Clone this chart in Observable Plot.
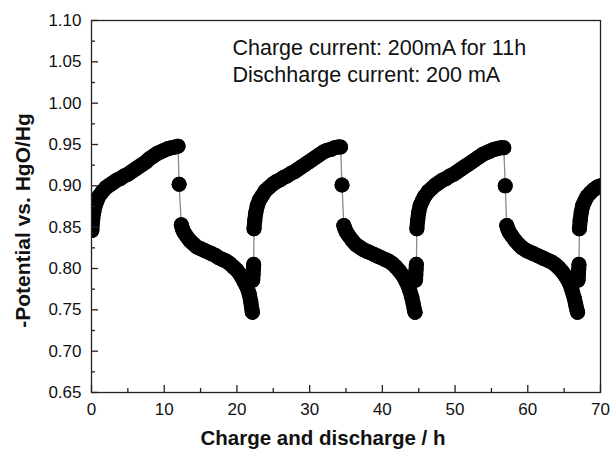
<!DOCTYPE html>
<html>
<head>
<meta charset="utf-8">
<script src="https://cdn.jsdelivr.net/npm/d3@7"></script>
<script src="https://cdn.jsdelivr.net/npm/@observablehq/plot@0.6"></script>
<style>
  html, body { margin: 0; padding: 0; background: #fff; }
  #chart { width: 611px; height: 449px; }
</style>
</head>
<body>
<div id="chart"></div>
<script>
// ---- data (hours, potential V) ----
const hours = [
  // cycle 1 charge
  0.05, 0.15, 0.3, 0.5, 0.75, 1.0, 1.5, 2.0, 2.5, 3.0, 3.5, 4.0, 4.5, 5.0, 5.5, 6.0, 6.5, 7.0, 7.5, 8.0, 8.5, 9.0, 9.5, 10.0, 10.5, 11.0, 11.5, 11.9,
  12.05,
  // cycle 1 discharge
  12.35, 12.5, 12.7, 13.0, 13.5, 14.0, 14.5, 15.0, 15.5, 16.0, 16.5, 17.0, 17.5, 18.0, 18.5, 19.0, 19.5, 20.0, 20.5, 21.0, 21.4, 21.7, 21.9, 22.05, 22.12,
  22.18, 22.22, 22.26, 22.3,
  // cycle 2 charge
  22.35, 22.45, 22.6, 22.8, 23.1, 23.4, 23.9, 24.4, 24.9, 25.4, 25.9, 26.4, 26.9, 27.4, 27.9, 28.4, 28.9, 29.4, 29.9, 30.4, 30.9, 31.4, 31.9, 32.4, 32.9, 33.4, 33.9, 34.25,
  34.45,
  // cycle 2 discharge
  34.7, 34.85, 35.05, 35.35, 35.85, 36.35, 36.85, 37.35, 37.85, 38.35, 38.85, 39.35, 39.85, 40.35, 40.85, 41.35, 41.85, 42.35, 42.85, 43.35, 43.75, 44.05, 44.25, 44.4, 44.5,
  44.56, 44.6, 44.64, 44.68,
  // cycle 3 charge
  44.75, 44.85, 45.0, 45.2, 45.5, 45.8, 46.3, 46.8, 47.3, 47.8, 48.3, 48.8, 49.3, 49.8, 50.3, 50.8, 51.3, 51.8, 52.3, 52.8, 53.3, 53.8, 54.3, 54.8, 55.3, 55.8, 56.3, 56.7,
  56.9,
  // cycle 3 discharge
  57.1, 57.25, 57.45, 57.75, 58.25, 58.75, 59.25, 59.75, 60.25, 60.75, 61.25, 61.75, 62.25, 62.75, 63.25, 63.75, 64.25, 64.75, 65.25, 65.75, 66.1, 66.4, 66.6, 66.75, 66.85,
  66.92, 66.96, 67.0, 67.04,
  // cycle 4 charge
  67.1, 67.2, 67.35, 67.55, 67.85, 68.15, 68.65, 69.15, 69.65, 70.0
];
const potential = [
  0.846, 0.858, 0.868, 0.876, 0.882, 0.887, 0.893, 0.898, 0.901, 0.904, 0.907, 0.909, 0.912, 0.914, 0.917, 0.920, 0.923, 0.926, 0.929, 0.933, 0.936, 0.939, 0.941, 0.943, 0.945, 0.946, 0.947, 0.948,
  0.902,
  0.853, 0.848, 0.844, 0.840, 0.834, 0.830, 0.826, 0.824, 0.822, 0.820, 0.818, 0.816, 0.813, 0.811, 0.809, 0.806, 0.802, 0.798, 0.792, 0.784, 0.777, 0.769, 0.760, 0.751, 0.747,
  0.786, 0.793, 0.799, 0.805,
  0.848, 0.858, 0.868, 0.876, 0.883, 0.887, 0.894, 0.898, 0.902, 0.905, 0.907, 0.910, 0.912, 0.915, 0.917, 0.920, 0.923, 0.926, 0.929, 0.932, 0.935, 0.938, 0.941, 0.943, 0.944, 0.946, 0.947, 0.947,
  0.901,
  0.852, 0.848, 0.844, 0.840, 0.834, 0.829, 0.826, 0.823, 0.821, 0.819, 0.817, 0.815, 0.813, 0.811, 0.809, 0.806, 0.802, 0.797, 0.791, 0.783, 0.774, 0.765, 0.757, 0.750, 0.747,
  0.786, 0.793, 0.799, 0.805,
  0.848, 0.858, 0.868, 0.876, 0.882, 0.887, 0.893, 0.897, 0.901, 0.904, 0.907, 0.909, 0.912, 0.914, 0.917, 0.920, 0.923, 0.926, 0.929, 0.932, 0.935, 0.938, 0.940, 0.942, 0.944, 0.945, 0.946, 0.946,
  0.900,
  0.852, 0.848, 0.844, 0.840, 0.834, 0.829, 0.825, 0.822, 0.820, 0.818, 0.816, 0.814, 0.812, 0.810, 0.808, 0.805, 0.801, 0.796, 0.790, 0.782, 0.773, 0.764, 0.756, 0.750, 0.747,
  0.786, 0.793, 0.799, 0.805,
  0.848, 0.858, 0.868, 0.876, 0.882, 0.887, 0.892, 0.896, 0.899, 0.900
];

const xMajorTicks = [0, 10, 20, 30, 40, 50, 60, 70];
const xMinorTicks = [5, 15, 25, 35, 45, 55, 65];
const yMajorTicks = [0.65, 0.70, 0.75, 0.80, 0.85, 0.90, 0.95, 1.00, 1.05, 1.10];
const yMinorTicks = [0.675, 0.725, 0.775, 0.825, 0.875, 0.925, 0.975, 1.025, 1.075];

const xTitle = "Charge and discharge / h";
const yTitle = "-Potential vs. HgO/Hg";
const noteLines = ["Charge current: 200mA for 11h", "Dischharge current: 200 mA"];

// build table; split into continuous segments where the potential jumps
let seg = 0;
const rows = hours.map((h, i) => {
  if (i > 0 && Math.abs(potential[i] - potential[i - 1]) > 0.02) seg++;
  return {h, v: potential[i], seg};
});

const chart = Plot.plot({
  width: 611,
  height: 449,
  marginLeft: 91,
  marginRight: 11,
  marginTop: 20,
  marginBottom: 57,
  style: {fontFamily: "'Liberation Sans', Arial, sans-serif", fontSize: "17px", color: "#111", background: "#fff"},
  x: {domain: [0, 70], axis: null},
  y: {domain: [0.65, 1.10], axis: null},
  marks: [
    Plot.line(rows, {x: "h", y: "v", stroke: "#8a8a8a", strokeWidth: 1.3, clip: true}),
    Plot.line(rows, {x: "h", y: "v", z: "seg", stroke: "#000", strokeWidth: 15, strokeLinecap: "round", strokeLinejoin: "round", clip: true}),
    Plot.dot(rows, {x: "h", y: "v", r: 7.5, fill: "#000", stroke: null, clip: true}),
    Plot.frame({stroke: "#222", strokeWidth: 1.3}),
    Plot.axisY(yMajorTicks, {anchor: "left", tickSize: -7, tickPadding: 17, tickFormat: d3.format(".2f"), fontSize: 17, label: null, stroke: "#222", strokeWidth: 1.3}),
    Plot.axisY(yMinorTicks, {anchor: "left", tickSize: -4, tickFormat: () => "", label: null, stroke: "#222", strokeWidth: 1.3}),
    Plot.axisX(xMajorTicks, {anchor: "bottom", tickSize: -7, tickPadding: 17, tickFormat: d3.format("d"), fontSize: 17, label: null, stroke: "#222", strokeWidth: 1.3}),
    Plot.axisX(xMinorTicks, {anchor: "bottom", tickSize: -4, tickFormat: () => "", label: null, stroke: "#222", strokeWidth: 1.3}),
    Plot.text([noteLines.join("\n")], {frameAnchor: "top-left", dx: 141, dy: 15, textAnchor: "start", lineAnchor: "top", lineHeight: 1.27, fontSize: 21.5, fill: "#111"}),
    Plot.text([yTitle], {frameAnchor: "left", rotate: -90, dx: -68, dy: 14, textAnchor: "middle", lineAnchor: "middle", fontWeight: "bold", fontSize: 21, fill: "#111"}),
    Plot.text([xTitle], {frameAnchor: "bottom", dx: -23, dy: 46, textAnchor: "middle", lineAnchor: "middle", fontWeight: "bold", fontSize: 20.5, fill: "#111"})
  ]
});
document.getElementById("chart").appendChild(chart);
</script>
</body>
</html>
